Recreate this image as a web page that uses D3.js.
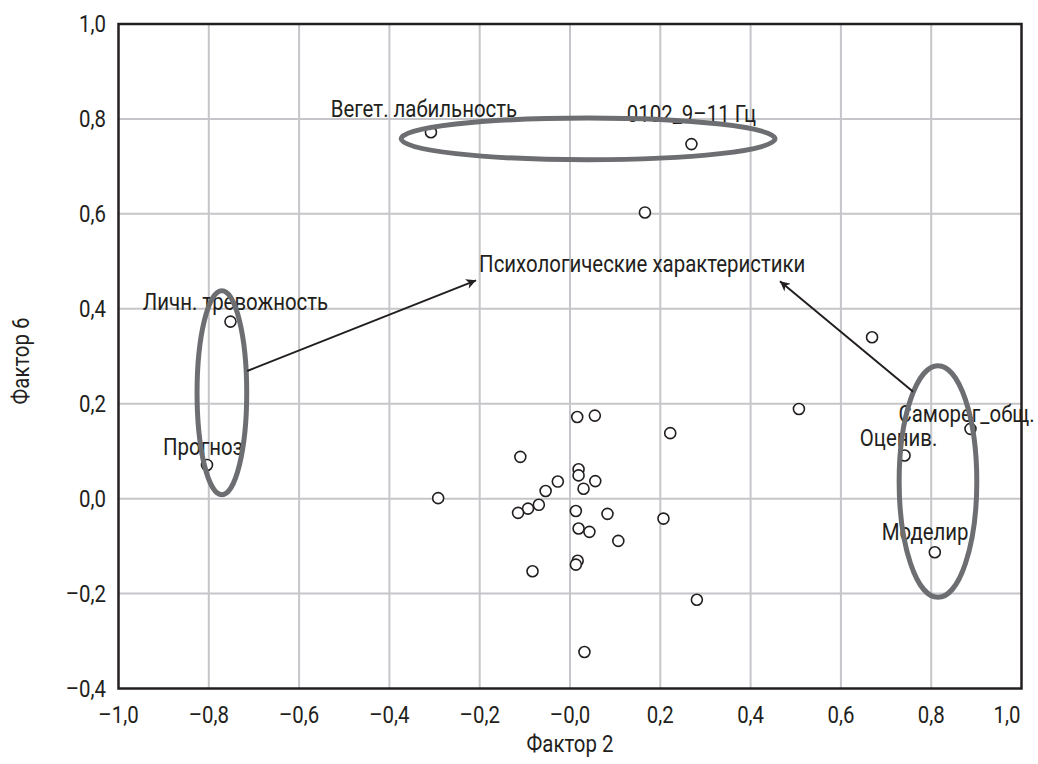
<!DOCTYPE html>
<html>
<head>
<meta charset="utf-8">
<script src="https://cdn.jsdelivr.net/npm/d3@7"></script>
<style>
  body { margin: 0; background: #fff; }
  svg text { font-family: Roboto, "DejaVu Sans", sans-serif; fill: #231f20; }
</style>
</head>
<body>
<div id="canvas"></div>
<script>
// unlabeled points (Фактор 2, Фактор 6)
var xs = [0.016, 0.055, 0.222, -0.110, 0.019, 0.019, -0.027, 0.056, 0.030, -0.054, -0.292, -0.069, -0.093, -0.115,
          0.013, 0.083, 0.207, 0.019, 0.043, 0.107, 0.017, 0.013, -0.083, 0.281, 0.032, 0.166, 0.669, 0.507]
var ys = [0.172, 0.175, 0.138, 0.088, 0.062, 0.049, 0.036, 0.037, 0.021, 0.016, 0.001, -0.013, -0.021, -0.030,
          -0.026, -0.032, -0.042, -0.063, -0.070, -0.089, -0.131, -0.139, -0.153, -0.213, -0.323, 0.603, 0.340, 0.189]

// labeled points
var names = ["Вегет. лабильность", "0102_9–11 Гц", "Личн. тревожность", "Прогноз", "Саморег_общ.", "Оценив.", "Моделир."]
var namedX = [-0.308, 0.269, -0.752, -0.804, 0.887, 0.741, 0.808]
var namedY = [0.772, 0.747, 0.373, 0.071, 0.147, 0.091, -0.113]

var xTicks = [-1.0, -0.8, -0.6, -0.4, -0.2, 0.0, 0.2, 0.4, 0.6, 0.8, 1.0]
var xTickLabels = ["–1,0", "–0,8", "–0,6", "–0,4", "–0,2", "–0,0", "0,2", "0,4", "0,6", "0,8", "1,0"]
var yTicks = [-0.4, -0.2, 0.0, 0.2, 0.4, 0.6, 0.8, 1.0]
var yTickLabels = ["–0,4", "–0,2", "0,0", "0,2", "0,4", "0,6", "0,8", "1,0"]

// group ellipses: centre and radii in data units
var groupCx = [0.040, -0.771, 0.815]
var groupCy = [0.758, 0.223, 0.036]
var groupRx = [0.414, 0.055, 0.086]
var groupRy = [0.044, 0.215, 0.244]

var arrowFrom = [[-0.715, 0.269], [0.760, 0.225]]
var arrowTo = [[-0.208, 0.460], [0.465, 0.458]]
var noteText = "Психологические характеристики"
var notePos = [0.160, 0.478]

var width = 1038
var height = 764
var mLeft = 118.5, mRight = 1021.5, mTop = 24, mBottom = 688.5
var fontSize = 24
var squeeze = 0.85   // the original type is a condensed face

// label offsets in px (dx, dy from point)
var labelOffset = [[-7, -15], [0, -22], [5, -12], [-4, -10], [-4, -7], [-6, -9], [-7, -12]]

var svg = d3.select("#canvas")
    .append("svg")
    .attr("width", width)
    .attr("height", height)

var xScale = d3.scaleLinear().domain([-1, 1]).range([mLeft, mRight])
var yScale = d3.scaleLinear().domain([-0.4, 1]).range([mBottom, mTop])

// condensed text placed at x,y
function label(parent, x, y, txt, anchor, extra) {
    return parent.append("text")
        .attr("transform", `translate(${x},${y})${extra || ""} scale(${squeeze},1)`)
        .attr("text-anchor", anchor)
        .style("font-size", fontSize + "px")
        .text(txt)
}

svg.append("defs").append("marker")
    .attr("id", "arrow")
    .attr("viewBox", "0 0 10 10")
    .attr("refX", 10)
    .attr("refY", 5)
    .attr("markerWidth", 14)
    .attr("markerHeight", 10)
    .attr("markerUnits", "userSpaceOnUse")
    .attr("orient", "auto")
    .append("path")
    .attr("d", "M0,0 L10,5 L0,10 L3,5 Z")
    .attr("fill", "#231f20")

// grid
svg.append("g")
    .selectAll("line")
    .data(xTicks.slice(1, -1))
    .enter().append("line")
    .attr("x1", d => xScale(d)).attr("x2", d => xScale(d))
    .attr("y1", mTop).attr("y2", mBottom)
    .attr("stroke", "#c6c6ca").attr("stroke-width", 2)

svg.append("g")
    .selectAll("line")
    .data(yTicks.slice(1, -1))
    .enter().append("line")
    .attr("y1", d => yScale(d)).attr("y2", d => yScale(d))
    .attr("x1", mLeft).attr("x2", mRight)
    .attr("stroke", "#c6c6ca").attr("stroke-width", 2)

// frame
svg.append("rect")
    .attr("x", mLeft).attr("y", mTop)
    .attr("width", mRight - mLeft).attr("height", mBottom - mTop)
    .attr("fill", "none")
    .attr("stroke", "#231f20")
    .attr("stroke-width", 2.5)

// tick labels
var xt = svg.append("g")
xTicks.forEach(function (d, i) {
    var last = i == xTicks.length - 1
    label(xt, last ? xScale(d) - 1 : xScale(d), 723, xTickLabels[i], last ? "end" : "middle")
})
var yt = svg.append("g")
yTicks.forEach(function (d, i) {
    label(yt, 106, yScale(d) + 8, yTickLabels[i], "end")
})

// axis titles
label(svg, (mLeft + mRight) / 2, 752, "Фактор 2", "middle")
label(svg, 29, 361, "Фактор 6", "middle", " rotate(-90)")

// points
var allX = xs.concat(namedX)
var allY = ys.concat(namedY)
svg.append("g")
    .selectAll("circle")
    .data(d3.range(allX.length))
    .enter().append("circle")
    .attr("cx", i => xScale(allX[i]))
    .attr("cy", i => yScale(allY[i]))
    .attr("r", 5.5)
    .attr("fill", "#fff")
    .attr("stroke", "#231f20")
    .attr("stroke-width", 1.6)

// point labels
var pl = svg.append("g")
names.forEach(function (d, i) {
    label(pl, xScale(namedX[i]) + labelOffset[i][0], yScale(namedY[i]) + labelOffset[i][1], d, "middle")
})

// group ellipses
svg.append("g")
    .selectAll("ellipse")
    .data(groupCx)
    .enter().append("ellipse")
    .attr("cx", (d, i) => xScale(d))
    .attr("cy", (d, i) => yScale(groupCy[i]))
    .attr("rx", (d, i) => xScale(groupRx[i]) - xScale(0))
    .attr("ry", (d, i) => yScale(0) - yScale(groupRy[i]))
    .attr("fill", "none")
    .attr("stroke", "#6d6e71")
    .attr("stroke-width", 5)

// arrows
svg.append("g")
    .selectAll("line")
    .data(arrowFrom)
    .enter().append("line")
    .attr("x1", d => xScale(d[0]))
    .attr("y1", d => yScale(d[1]))
    .attr("x2", (d, i) => xScale(arrowTo[i][0]))
    .attr("y2", (d, i) => yScale(arrowTo[i][1]))
    .attr("stroke", "#231f20")
    .attr("stroke-width", 2)
    .attr("marker-end", "url(#arrow)")

label(svg, xScale(notePos[0]), yScale(notePos[1]), noteText, "middle")
</script>
</body>
</html>
